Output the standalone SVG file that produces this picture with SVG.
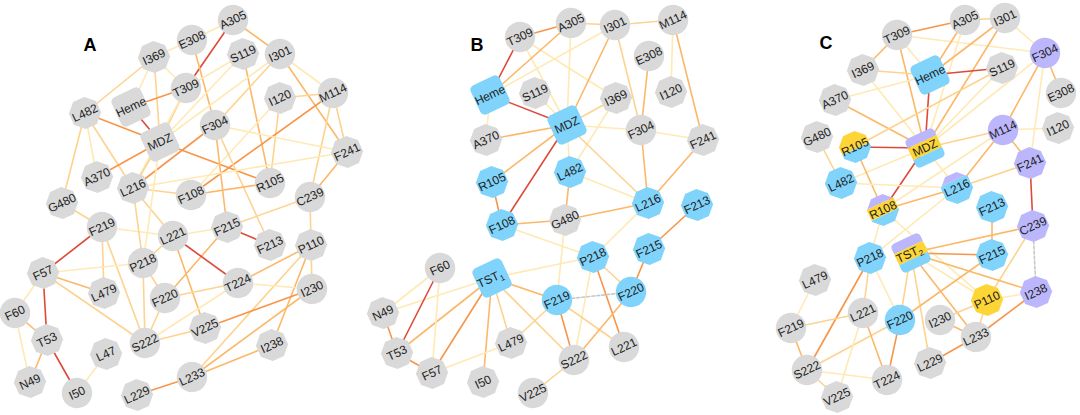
<svg xmlns="http://www.w3.org/2000/svg" xmlns:xlink="http://www.w3.org/1999/xlink" width="1080" height="415" viewBox="0 0 1080 415">
<style>
text{font-family:"Liberation Sans",Arial,sans-serif;font-size:12px;fill:#222;text-anchor:middle;dominant-baseline:central}
.lbl{font-size:18px;font-weight:bold;fill:#000}
.g{fill:#d9d9d9}.b{fill:#80d4fb}.y{fill:#fdd536}.p{fill:#bcb7fc}
#edges line{stroke-width:1.6;stroke-linecap:round}
.e1{stroke:#ffe9b5}.e2{stroke:#fed38f}.e3{stroke:#fcb868}.e4{stroke:#f7964a}.e5{stroke:#dd4a3a}
.d{stroke:#c8c8c8;stroke-dasharray:3 2}
</style>
<defs>
<circle id="c" r="15.2"/>
<polygon id="o" points="14.9,6.2 6.2,14.9 -6.2,14.9 -14.9,6.2 -14.9,-6.2 -6.2,-14.9 6.2,-14.9 14.9,-6.2"/>
<rect id="s" x="-16" y="-16" width="32" height="32" rx="5"/>
<clipPath id="cs"><rect x="-16" y="-16" width="32" height="32" rx="5"/></clipPath>
<clipPath id="co"><polygon points="14.9,6.2 6.2,14.9 -6.2,14.9 -14.9,6.2 -14.9,-6.2 -6.2,-14.9 6.2,-14.9 14.9,-6.2"/></clipPath>
</defs>
<rect width="1080" height="415" fill="#fff"/>
<text class="lbl" x="90" y="45">A</text>
<text class="lbl" x="477" y="45">B</text>
<text class="lbl" x="826" y="43">C</text>
<g id="edges">
<!-- A -->
<line class="e5" x1="233" y1="20" x2="186" y2="88"/>
<line class="e1" x1="233" y1="20" x2="192" y2="40"/>
<line class="e3" x1="233" y1="20" x2="280" y2="54"/>
<line class="e1" x1="192" y1="40" x2="154" y2="57"/>
<line class="e3" x1="192" y1="40" x2="215" y2="125"/>
<line class="e2" x1="154" y1="57" x2="85" y2="113"/>
<line class="e1" x1="154" y1="57" x2="131" y2="107"/>
<line class="e2" x1="154" y1="57" x2="160" y2="142"/>
<line class="e1" x1="154" y1="57" x2="186" y2="88"/>
<line class="e4" x1="186" y1="88" x2="131" y2="107"/>
<line class="e1" x1="186" y1="88" x2="243" y2="54"/>
<line class="e2" x1="186" y1="88" x2="160" y2="142"/>
<line class="e1" x1="186" y1="88" x2="133" y2="188"/>
<line class="e5" x1="131" y1="107" x2="160" y2="142"/>
<line class="e4" x1="85" y1="113" x2="160" y2="142"/>
<line class="e1" x1="85" y1="113" x2="97" y2="177"/>
<line class="e2" x1="85" y1="113" x2="133" y2="188"/>
<line class="e2" x1="85" y1="113" x2="62" y2="203"/>
<line class="e4" x1="97" y1="177" x2="160" y2="142"/>
<line class="e2" x1="160" y1="142" x2="133" y2="188"/>
<line class="e4" x1="160" y1="142" x2="270" y2="183"/>
<line class="e1" x1="243" y1="54" x2="160" y2="142"/>
<line class="e3" x1="243" y1="54" x2="270" y2="183"/>
<line class="e1" x1="280" y1="54" x2="333" y2="93"/>
<line class="e3" x1="280" y1="54" x2="347" y2="152"/>
<line class="e2" x1="280" y1="54" x2="215" y2="125"/>
<line class="e1" x1="280" y1="54" x2="160" y2="142"/>
<line class="e2" x1="280" y1="98" x2="333" y2="93"/>
<line class="e2" x1="280" y1="98" x2="270" y2="183"/>
<line class="e1" x1="280" y1="98" x2="191" y2="195"/>
<line class="e4" x1="333" y1="93" x2="191" y2="195"/>
<line class="e2" x1="333" y1="93" x2="310" y2="197"/>
<line class="e2" x1="333" y1="93" x2="347" y2="152"/>
<line class="e1" x1="215" y1="125" x2="347" y2="152"/>
<line class="e4" x1="215" y1="125" x2="133" y2="188"/>
<line class="e3" x1="215" y1="125" x2="227" y2="227"/>
<line class="e2" x1="215" y1="125" x2="270" y2="245"/>
<line class="e3" x1="347" y1="152" x2="310" y2="197"/>
<line class="e1" x1="347" y1="152" x2="133" y2="188"/>
<line class="e3" x1="191" y1="195" x2="270" y2="183"/>
<line class="e2" x1="191" y1="195" x2="133" y2="188"/>
<line class="e2" x1="310" y1="197" x2="311" y2="245"/>
<line class="e2" x1="310" y1="197" x2="227" y2="227"/>
<line class="e5" x1="227" y1="227" x2="270" y2="245"/>
<line class="e1" x1="227" y1="227" x2="173" y2="236"/>
<line class="e3" x1="227" y1="227" x2="165" y2="298"/>
<line class="e5" x1="173" y1="236" x2="238" y2="283"/>
<line class="e3" x1="173" y1="236" x2="205" y2="328"/>
<line class="e2" x1="173" y1="236" x2="143" y2="263"/>
<line class="e2" x1="133" y1="188" x2="173" y2="236"/>
<line class="e3" x1="311" y1="245" x2="238" y2="283"/>
<line class="e2" x1="311" y1="245" x2="312" y2="289"/>
<line class="e2" x1="311" y1="245" x2="192" y2="377"/>
<line class="e3" x1="311" y1="245" x2="272" y2="345"/>
<line class="e1" x1="312" y1="289" x2="238" y2="283"/>
<line class="e4" x1="312" y1="289" x2="205" y2="328"/>
<line class="e3" x1="312" y1="289" x2="192" y2="377"/>
<line class="e3" x1="272" y1="345" x2="192" y2="377"/>
<line class="e2" x1="238" y1="283" x2="165" y2="298"/>
<line class="e1" x1="238" y1="283" x2="145" y2="343"/>
<line class="e2" x1="205" y1="328" x2="145" y2="343"/>
<line class="e4" x1="192" y1="377" x2="137" y2="395"/>
<line class="e2" x1="62" y1="203" x2="102" y2="227"/>
<line class="e5" x1="102" y1="227" x2="43" y2="273"/>
<line class="e2" x1="102" y1="227" x2="104" y2="293"/>
<line class="e2" x1="102" y1="227" x2="145" y2="343"/>
<line class="e1" x1="102" y1="227" x2="173" y2="236"/>
<line class="e1" x1="43" y1="273" x2="143" y2="263"/>
<line class="e3" x1="43" y1="273" x2="104" y2="293"/>
<line class="e2" x1="43" y1="273" x2="145" y2="343"/>
<line class="e5" x1="43" y1="273" x2="47" y2="340"/>
<line class="e1" x1="43" y1="273" x2="15" y2="313"/>
<line class="e3" x1="15" y1="313" x2="47" y2="340"/>
<line class="e1" x1="15" y1="313" x2="30" y2="382"/>
<line class="e3" x1="47" y1="340" x2="30" y2="382"/>
<line class="e5" x1="47" y1="340" x2="77" y2="393"/>
<line class="e1" x1="77" y1="393" x2="106" y2="354"/>
<line class="e2" x1="143" y1="263" x2="145" y2="343"/>
<line class="e2" x1="143" y1="263" x2="165" y2="298"/>
<line class="e2" x1="143" y1="263" x2="133" y2="188"/>
<line class="e1" x1="143" y1="263" x2="160" y2="142"/>
<line class="e2" x1="165" y1="298" x2="145" y2="343"/>
<!-- B -->
<line class="e5" x1="520" y1="37" x2="490" y2="95"/>
<line class="e4" x1="520" y1="37" x2="571" y2="23"/>
<line class="e1" x1="520" y1="37" x2="567" y2="125"/>
<line class="e1" x1="520" y1="37" x2="616" y2="98"/>
<line class="e3" x1="490" y1="95" x2="571" y2="23"/>
<line class="e1" x1="490" y1="95" x2="615" y2="25"/>
<line class="e5" x1="490" y1="95" x2="567" y2="125"/>
<line class="e1" x1="490" y1="95" x2="486" y2="140"/>
<line class="e2" x1="571" y1="23" x2="615" y2="25"/>
<line class="e1" x1="571" y1="23" x2="567" y2="125"/>
<line class="e2" x1="615" y1="25" x2="673" y2="20"/>
<line class="e3" x1="615" y1="25" x2="567" y2="125"/>
<line class="e2" x1="615" y1="25" x2="641" y2="130"/>
<line class="e1" x1="673" y1="20" x2="671" y2="92"/>
<line class="e3" x1="673" y1="20" x2="703" y2="140"/>
<line class="e3" x1="649" y1="56" x2="641" y2="130"/>
<line class="e1" x1="535" y1="93" x2="567" y2="125"/>
<line class="e2" x1="616" y1="98" x2="567" y2="125"/>
<line class="e1" x1="616" y1="98" x2="570" y2="172"/>
<line class="e3" x1="567" y1="125" x2="486" y2="140"/>
<line class="e3" x1="567" y1="125" x2="492" y2="182"/>
<line class="e5" x1="567" y1="125" x2="502" y2="225"/>
<line class="e1" x1="567" y1="125" x2="570" y2="172"/>
<line class="e1" x1="567" y1="125" x2="641" y2="130"/>
<line class="e2" x1="567" y1="125" x2="648" y2="203"/>
<line class="e1" x1="641" y1="130" x2="703" y2="140"/>
<line class="e3" x1="641" y1="130" x2="648" y2="203"/>
<line class="e3" x1="703" y1="140" x2="648" y2="203"/>
<line class="e1" x1="570" y1="172" x2="648" y2="203"/>
<line class="e3" x1="570" y1="172" x2="565" y2="220"/>
<line class="e4" x1="492" y1="182" x2="502" y2="225"/>
<line class="e3" x1="502" y1="225" x2="565" y2="220"/>
<line class="e1" x1="502" y1="225" x2="593" y2="257"/>
<line class="e3" x1="565" y1="220" x2="648" y2="203"/>
<line class="e1" x1="565" y1="220" x2="557" y2="300"/>
<line class="e1" x1="648" y1="203" x2="593" y2="257"/>
<line class="e4" x1="697" y1="205" x2="649" y2="249"/>
<line class="e4" x1="649" y1="249" x2="631" y2="292"/>
<line class="e2" x1="593" y1="257" x2="631" y2="292"/>
<line class="e4" x1="593" y1="257" x2="624" y2="347"/>
<line class="e1" x1="593" y1="257" x2="574" y2="360"/>
<line class="e1" x1="593" y1="257" x2="492" y2="278"/>
<line class="d" x1="557" y1="300" x2="631" y2="292"/>
<line class="e4" x1="557" y1="300" x2="574" y2="360"/>
<line class="e2" x1="557" y1="300" x2="624" y2="347"/>
<line class="e3" x1="557" y1="300" x2="492" y2="278"/>
<line class="e3" x1="631" y1="292" x2="574" y2="360"/>
<line class="e2" x1="574" y1="360" x2="533" y2="393"/>
<line class="e1" x1="492" y1="278" x2="383" y2="313"/>
<line class="e3" x1="492" y1="278" x2="397" y2="353"/>
<line class="e4" x1="492" y1="278" x2="432" y2="373"/>
<line class="e3" x1="492" y1="278" x2="483" y2="382"/>
<line class="e2" x1="492" y1="278" x2="511" y2="343"/>
<line class="e2" x1="492" y1="278" x2="574" y2="360"/>
<line class="e5" x1="440" y1="268" x2="397" y2="353"/>
<line class="e1" x1="440" y1="268" x2="432" y2="373"/>
<line class="e1" x1="440" y1="268" x2="383" y2="313"/>
<line class="e4" x1="383" y1="313" x2="397" y2="353"/>
<line class="e4" x1="397" y1="353" x2="432" y2="373"/>
<line class="e1" x1="432" y1="373" x2="511" y2="343"/>
<line class="e2" x1="511" y1="343" x2="557" y2="300"/>
<!-- C -->
<line class="e3" x1="897" y1="35" x2="863" y2="70"/>
<line class="e4" x1="897" y1="35" x2="965" y2="20"/>
<line class="e1" x1="897" y1="35" x2="930" y2="75"/>
<line class="e1" x1="897" y1="35" x2="1045" y2="53"/>
<line class="e3" x1="897" y1="35" x2="925" y2="148"/>
<line class="e2" x1="863" y1="70" x2="930" y2="75"/>
<line class="e1" x1="863" y1="70" x2="925" y2="148"/>
<line class="e1" x1="835" y1="100" x2="930" y2="75"/>
<line class="e3" x1="835" y1="100" x2="925" y2="148"/>
<line class="e2" x1="965" y1="20" x2="1005" y2="18"/>
<line class="e3" x1="965" y1="20" x2="930" y2="75"/>
<line class="e1" x1="965" y1="20" x2="925" y2="148"/>
<line class="e3" x1="1005" y1="18" x2="930" y2="75"/>
<line class="e3" x1="1005" y1="18" x2="925" y2="148"/>
<line class="e1" x1="1005" y1="18" x2="1045" y2="53"/>
<line class="e5" x1="930" y1="75" x2="1002" y2="68"/>
<line class="e5" x1="930" y1="75" x2="925" y2="148"/>
<line class="e1" x1="1002" y1="68" x2="925" y2="148"/>
<line class="e2" x1="1002" y1="68" x2="855" y2="147"/>
<line class="e3" x1="1045" y1="53" x2="1061" y2="93"/>
<line class="e3" x1="1045" y1="53" x2="1003" y2="130"/>
<line class="e1" x1="1045" y1="53" x2="1030" y2="163"/>
<line class="e1" x1="1045" y1="53" x2="925" y2="148"/>
<line class="e1" x1="1003" y1="130" x2="1058" y2="128"/>
<line class="e3" x1="1003" y1="130" x2="1030" y2="163"/>
<line class="e2" x1="1003" y1="130" x2="925" y2="148"/>
<line class="e3" x1="1003" y1="130" x2="957" y2="188"/>
<line class="e1" x1="1003" y1="130" x2="883" y2="210"/>
<line class="e2" x1="1030" y1="163" x2="957" y2="188"/>
<line class="e5" x1="1030" y1="163" x2="1033" y2="226"/>
<line class="e5" x1="925" y1="148" x2="855" y2="147"/>
<line class="e5" x1="925" y1="148" x2="883" y2="210"/>
<line class="e1" x1="925" y1="148" x2="841" y2="183"/>
<line class="e1" x1="925" y1="148" x2="957" y2="188"/>
<line class="e3" x1="855" y1="147" x2="883" y2="210"/>
<line class="e2" x1="817" y1="137" x2="841" y2="183"/>
<line class="e1" x1="841" y1="183" x2="957" y2="188"/>
<line class="e3" x1="883" y1="210" x2="957" y2="188"/>
<line class="e1" x1="883" y1="210" x2="870" y2="258"/>
<line class="e1" x1="883" y1="210" x2="987" y2="300"/>
<line class="e1" x1="957" y1="188" x2="870" y2="258"/>
<line class="e3" x1="1033" y1="226" x2="911" y2="253"/>
<line class="d" x1="1033" y1="226" x2="1036" y2="292"/>
<line class="e2" x1="1033" y1="226" x2="987" y2="300"/>
<line class="e3" x1="992" y1="207" x2="992" y2="255"/>
<line class="e4" x1="911" y1="253" x2="992" y2="255"/>
<line class="e2" x1="911" y1="253" x2="900" y2="320"/>
<line class="e3" x1="911" y1="253" x2="1036" y2="292"/>
<line class="e1" x1="911" y1="253" x2="987" y2="300"/>
<line class="e3" x1="911" y1="253" x2="976" y2="337"/>
<line class="e2" x1="911" y1="253" x2="930" y2="363"/>
<line class="e3" x1="992" y1="255" x2="900" y2="320"/>
<line class="e1" x1="987" y1="300" x2="1036" y2="292"/>
<line class="e2" x1="987" y1="300" x2="940" y2="320"/>
<line class="e2" x1="987" y1="300" x2="976" y2="337"/>
<line class="e4" x1="1036" y1="292" x2="976" y2="337"/>
<line class="e4" x1="976" y1="337" x2="930" y2="363"/>
<line class="e3" x1="976" y1="337" x2="940" y2="320"/>
<line class="e2" x1="870" y1="258" x2="863" y2="313"/>
<line class="e4" x1="870" y1="258" x2="807" y2="370"/>
<line class="e1" x1="870" y1="258" x2="900" y2="320"/>
<line class="e4" x1="900" y1="320" x2="887" y2="380"/>
<line class="e2" x1="900" y1="320" x2="807" y2="370"/>
<line class="e2" x1="863" y1="313" x2="791" y2="328"/>
<line class="e3" x1="863" y1="313" x2="887" y2="380"/>
<line class="e1" x1="863" y1="313" x2="837" y2="397"/>
<line class="e1" x1="791" y1="328" x2="815" y2="280"/>
<line class="e3" x1="791" y1="328" x2="807" y2="370"/>
<line class="e1" x1="807" y1="370" x2="887" y2="380"/>
<line class="e2" x1="807" y1="370" x2="837" y2="397"/>
</g>
<!-- Panel A nodes -->
<g id="a-I369" transform="translate(154,57) rotate(-25)"><use href="#o" class="g"/><text>I369</text></g>
<g id="a-E308" transform="translate(192,40) rotate(-25)"><use href="#c" class="g"/><text>E308</text></g>
<g id="a-A305" transform="translate(233,20) rotate(-25)"><use href="#c" class="g"/><text>A305</text></g>
<g id="a-S119" transform="translate(243,54) rotate(-25)"><use href="#o" class="g"/><text>S119</text></g>
<g id="a-I301" transform="translate(280,54) rotate(-25)"><use href="#c" class="g"/><text>I301</text></g>
<g id="a-T309" transform="translate(186,88) rotate(-25)"><use href="#c" class="g"/><text>T309</text></g>
<g id="a-Heme" transform="translate(131,107) rotate(-25)"><use href="#s" class="g"/><text>Heme</text></g>
<g id="a-L482" transform="translate(85,113) rotate(-25)"><use href="#o" class="g"/><text>L482</text></g>
<g id="a-I120" transform="translate(280,98) rotate(-25)"><use href="#o" class="g"/><text>I120</text></g>
<g id="a-M114" transform="translate(333,93) rotate(-25)"><use href="#c" class="g"/><text>M114</text></g>
<g id="a-MDZ" transform="translate(160,142) rotate(-25)"><use href="#s" class="g"/><text>MDZ</text></g>
<g id="a-F304" transform="translate(215,125) rotate(-25)"><use href="#c" class="g"/><text>F304</text></g>
<g id="a-F241" transform="translate(347,152) rotate(-25)"><use href="#o" class="g"/><text>F241</text></g>
<g id="a-A370" transform="translate(97,177) rotate(-25)"><use href="#o" class="g"/><text>A370</text></g>
<g id="a-L216" transform="translate(133,188) rotate(-25)"><use href="#o" class="g"/><text>L216</text></g>
<g id="a-R105" transform="translate(270,183) rotate(-25)"><use href="#c" class="g"/><text>R105</text></g>
<g id="a-F108" transform="translate(191,195) rotate(-25)"><use href="#c" class="g"/><text>F108</text></g>
<g id="a-C239" transform="translate(310,197) rotate(-25)"><use href="#c" class="g"/><text>C239</text></g>
<g id="a-G480" transform="translate(62,203) rotate(-25)"><use href="#o" class="g"/><text>G480</text></g>
<g id="a-F219" transform="translate(102,227) rotate(-25)"><use href="#c" class="g"/><text>F219</text></g>
<g id="a-L221" transform="translate(173,236) rotate(-25)"><use href="#c" class="g"/><text>L221</text></g>
<g id="a-F215" transform="translate(227,227) rotate(-25)"><use href="#o" class="g"/><text>F215</text></g>
<g id="a-F213" transform="translate(270,245) rotate(-25)"><use href="#o" class="g"/><text>F213</text></g>
<g id="a-P110" transform="translate(311,245) rotate(-25)"><use href="#o" class="g"/><text>P110</text></g>
<g id="a-P218" transform="translate(143,263) rotate(-25)"><use href="#c" class="g"/><text>P218</text></g>
<g id="a-F57" transform="translate(43,273) rotate(-25)"><use href="#o" class="g"/><text>F57</text></g>
<g id="a-T224" transform="translate(238,283) rotate(-25)"><use href="#c" class="g"/><text>T224</text></g>
<g id="a-I230" transform="translate(312,289) rotate(-25)"><use href="#c" class="g"/><text>I230</text></g>
<g id="a-L479" transform="translate(104,293) rotate(-25)"><use href="#o" class="g"/><text>L479</text></g>
<g id="a-F220" transform="translate(165,298) rotate(-25)"><use href="#c" class="g"/><text>F220</text></g>
<g id="a-F60" transform="translate(15,313) rotate(-25)"><use href="#c" class="g"/><text>F60</text></g>
<g id="a-V225" transform="translate(205,328) rotate(-25)"><use href="#o" class="g"/><text>V225</text></g>
<g id="a-T53" transform="translate(47,340) rotate(-25)"><use href="#o" class="g"/><text>T53</text></g>
<g id="a-S222" transform="translate(145,343) rotate(-25)"><use href="#c" class="g"/><text>S222</text></g>
<g id="a-I238" transform="translate(272,345) rotate(-25)"><use href="#o" class="g"/><text>I238</text></g>
<g id="a-L47" transform="translate(106,354) rotate(-25)"><use href="#o" class="g"/><text>L47</text></g>
<g id="a-L233" transform="translate(192,377) rotate(-25)"><use href="#c" class="g"/><text>L233</text></g>
<g id="a-N49" transform="translate(30,382) rotate(-25)"><use href="#o" class="g"/><text>N49</text></g>
<g id="a-I50" transform="translate(77,393) rotate(-25)"><use href="#c" class="g"/><text>I50</text></g>
<g id="a-L229" transform="translate(137,395) rotate(-25)"><use href="#o" class="g"/><text>L229</text></g>
<!-- Panel B nodes -->
<g id="b-T309" transform="translate(520,37) rotate(-25)"><use href="#c" class="g"/><text>T309</text></g>
<g id="b-A305" transform="translate(571,23) rotate(-25)"><use href="#c" class="g"/><text>A305</text></g>
<g id="b-I301" transform="translate(615,25) rotate(-25)"><use href="#c" class="g"/><text>I301</text></g>
<g id="b-M114" transform="translate(673,20) rotate(-25)"><use href="#c" class="g"/><text>M114</text></g>
<g id="b-E308" transform="translate(649,56) rotate(-25)"><use href="#c" class="g"/><text>E308</text></g>
<g id="b-Heme" transform="translate(490,95) rotate(-25)"><use href="#s" class="b"/><text>Heme</text></g>
<g id="b-S119" transform="translate(535,93) rotate(-25)"><use href="#o" class="g"/><text>S119</text></g>
<g id="b-I120" transform="translate(671,92) rotate(-25)"><use href="#o" class="g"/><text>I120</text></g>
<g id="b-I369" transform="translate(616,98) rotate(-25)"><use href="#o" class="g"/><text>I369</text></g>
<g id="b-MDZ" transform="translate(567,125) rotate(-25)"><use href="#s" class="b"/><text>MDZ</text></g>
<g id="b-F304" transform="translate(641,130) rotate(-25)"><use href="#c" class="g"/><text>F304</text></g>
<g id="b-A370" transform="translate(486,140) rotate(-25)"><use href="#o" class="g"/><text>A370</text></g>
<g id="b-F241" transform="translate(703,140) rotate(-25)"><use href="#o" class="g"/><text>F241</text></g>
<g id="b-L482" transform="translate(570,172) rotate(-25)"><use href="#o" class="b"/><text>L482</text></g>
<g id="b-R105" transform="translate(492,182) rotate(-25)"><use href="#o" class="b"/><text>R105</text></g>
<g id="b-L216" transform="translate(648,203) rotate(-25)"><use href="#o" class="b"/><text>L216</text></g>
<g id="b-F213" transform="translate(697,205) rotate(-25)"><use href="#o" class="b"/><text>F213</text></g>
<g id="b-F108" transform="translate(502,225) rotate(-25)"><use href="#o" class="b"/><text>F108</text></g>
<g id="b-G480" transform="translate(565,220) rotate(-25)"><use href="#o" class="g"/><text>G480</text></g>
<g id="b-F215" transform="translate(649,249) rotate(-25)"><use href="#o" class="b"/><text>F215</text></g>
<g id="b-P218" transform="translate(593,257) rotate(-25)"><use href="#o" class="b"/><text>P218</text></g>
<g id="b-TST1" transform="translate(492,278) rotate(-25)"><use href="#s" class="b"/><text x="-2">TST<tspan font-size="8" dy="4">1</tspan></text></g>
<g id="b-F60" transform="translate(440,268) rotate(-25)"><use href="#c" class="g"/><text>F60</text></g>
<g id="b-F220" transform="translate(631,292) rotate(-25)"><use href="#c" class="b"/><text>F220</text></g>
<g id="b-F219" transform="translate(557,300) rotate(-25)"><use href="#c" class="b"/><text>F219</text></g>
<g id="b-N49" transform="translate(383,313) rotate(-25)"><use href="#o" class="g"/><text>N49</text></g>
<g id="b-L479" transform="translate(511,343) rotate(-25)"><use href="#o" class="g"/><text>L479</text></g>
<g id="b-L221" transform="translate(624,347) rotate(-25)"><use href="#c" class="g"/><text>L221</text></g>
<g id="b-T53" transform="translate(397,353) rotate(-25)"><use href="#o" class="g"/><text>T53</text></g>
<g id="b-S222" transform="translate(574,360) rotate(-25)"><use href="#c" class="g"/><text>S222</text></g>
<g id="b-F57" transform="translate(432,373) rotate(-25)"><use href="#o" class="g"/><text>F57</text></g>
<g id="b-I50" transform="translate(483,382) rotate(-25)"><use href="#o" class="g"/><text>I50</text></g>
<g id="b-V225" transform="translate(533,393) rotate(-25)"><use href="#c" class="g"/><text>V225</text></g>
<!-- Panel C nodes -->
<g id="c-T309" transform="translate(897,35) rotate(-25)"><use href="#c" class="g"/><text>T309</text></g>
<g id="c-A305" transform="translate(965,20) rotate(-25)"><use href="#c" class="g"/><text>A305</text></g>
<g id="c-I301" transform="translate(1005,18) rotate(-25)"><use href="#c" class="g"/><text>I301</text></g>
<g id="c-F304" transform="translate(1045,53) rotate(-25)"><use href="#c" class="p"/><text>F304</text></g>
<g id="c-I369" transform="translate(863,70) rotate(-25)"><use href="#o" class="g"/><text>I369</text></g>
<g id="c-Heme" transform="translate(930,75) rotate(-25)"><use href="#s" class="b"/><text>Heme</text></g>
<g id="c-S119" transform="translate(1002,68) rotate(-25)"><use href="#o" class="g"/><text>S119</text></g>
<g id="c-E308" transform="translate(1061,93) rotate(-25)"><use href="#c" class="g"/><text>E308</text></g>
<g id="c-A370" transform="translate(835,100) rotate(-25)"><use href="#o" class="g"/><text>A370</text></g>
<g id="c-M114" transform="translate(1003,130) rotate(-25)"><use href="#c" class="p"/><text>M114</text></g>
<g id="c-I120" transform="translate(1058,128) rotate(-25)"><use href="#o" class="g"/><text>I120</text></g>
<g id="c-G480" transform="translate(817,137) rotate(-25)"><use href="#o" class="g"/><text>G480</text></g>
<g id="c-R105" transform="translate(855,147) rotate(-25)"><g clip-path="url(#co)"><rect class="y" x="-16" y="-16" width="32" height="18"/><rect class="b" x="-16" y="2" width="32" height="14"/></g><text>R105</text></g>
<g id="c-MDZ" transform="translate(925,148) rotate(-25)"><g clip-path="url(#cs)"><rect class="p" x="-16" y="-16" width="32" height="9"/><rect class="y" x="-16" y="-7" width="32" height="13"/><rect class="b" x="-16" y="6" width="32" height="10"/></g><text>MDZ</text></g>
<g id="c-F241" transform="translate(1030,163) rotate(-25)"><use href="#o" class="p"/><text>F241</text></g>
<g id="c-L482" transform="translate(841,183) rotate(-25)"><use href="#o" class="b"/><text>L482</text></g>
<g id="c-L216" transform="translate(957,188) rotate(-25)"><g clip-path="url(#co)"><rect class="p" x="-16" y="-16" width="32" height="8"/><rect class="b" x="-16" y="-8" width="32" height="24"/></g><text>L216</text></g>
<g id="c-R108" transform="translate(883,210) rotate(-25)"><g clip-path="url(#co)"><rect class="p" x="-16" y="-16" width="32" height="9"/><rect class="y" x="-16" y="-7" width="32" height="12"/><rect class="b" x="-16" y="5" width="32" height="11"/></g><text>R108</text></g>
<g id="c-F213" transform="translate(992,207) rotate(-25)"><use href="#o" class="b"/><text>F213</text></g>
<g id="c-C239" transform="translate(1033,226) rotate(-25)"><use href="#o" class="p"/><text>C239</text></g>
<g id="c-TST2" transform="translate(911,253) rotate(-25)"><g clip-path="url(#cs)"><rect class="p" x="-16" y="-16" width="32" height="10"/><rect class="y" x="-16" y="-6" width="32" height="12"/><rect class="b" x="-16" y="6" width="32" height="10"/></g><text x="-2">TST<tspan font-size="8" dy="4">2</tspan></text></g>
<g id="c-F215" transform="translate(992,255) rotate(-25)"><use href="#o" class="b"/><text>F215</text></g>
<g id="c-P218" transform="translate(870,258) rotate(-25)"><use href="#o" class="b"/><text>P218</text></g>
<g id="c-L479" transform="translate(815,280) rotate(-25)"><use href="#o" class="g"/><text>L479</text></g>
<g id="c-I238" transform="translate(1036,292) rotate(-25)"><use href="#o" class="p"/><text>I238</text></g>
<g id="c-P110" transform="translate(987,300) rotate(-25)"><use href="#o" class="y"/><text>P110</text></g>
<g id="c-L221" transform="translate(863,313) rotate(-25)"><use href="#c" class="g"/><text>L221</text></g>
<g id="c-F220" transform="translate(900,320) rotate(-25)"><use href="#c" class="b"/><text>F220</text></g>
<g id="c-I230" transform="translate(940,320) rotate(-25)"><use href="#c" class="g"/><text>I230</text></g>
<g id="c-F219" transform="translate(791,328) rotate(-25)"><use href="#c" class="g"/><text>F219</text></g>
<g id="c-L233" transform="translate(976,337) rotate(-25)"><use href="#c" class="g"/><text>L233</text></g>
<g id="c-L229" transform="translate(930,363) rotate(-25)"><use href="#o" class="g"/><text>L229</text></g>
<g id="c-S222" transform="translate(807,370) rotate(-25)"><use href="#c" class="g"/><text>S222</text></g>
<g id="c-T224" transform="translate(887,380) rotate(-25)"><use href="#c" class="g"/><text>T224</text></g>
<g id="c-V225" transform="translate(837,397) rotate(-25)"><use href="#o" class="g"/><text>V225</text></g>
</svg>
